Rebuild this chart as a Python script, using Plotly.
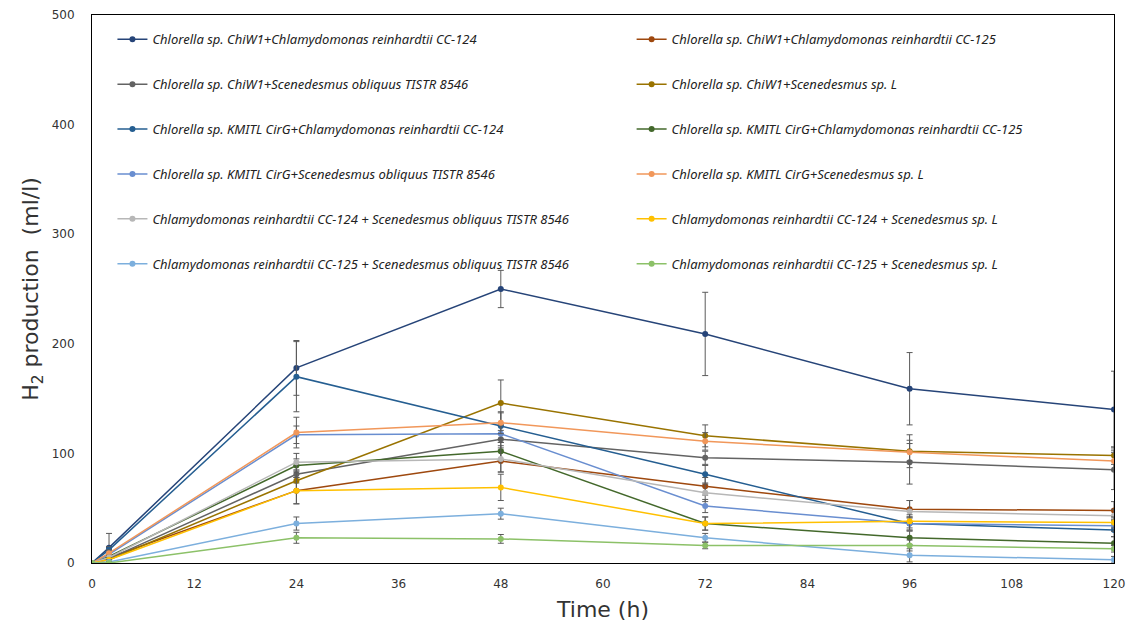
import plotly.graph_objects as go

time_h = [0, 2, 24, 48, 72, 96, 120]

names = [
    "Chlorella sp. ChiW1+Chlamydomonas reinhardtii CC-124",
    "Chlorella sp. ChiW1+Chlamydomonas reinhardtii CC-125",
    "Chlorella sp. ChiW1+Scenedesmus obliquus TISTR 8546",
    "Chlorella sp. ChiW1+Scenedesmus sp. L",
    "Chlorella sp. KMITL CirG+Chlamydomonas reinhardtii CC-124",
    "Chlorella sp. KMITL CirG+Chlamydomonas reinhardtii CC-125",
    "Chlorella sp. KMITL CirG+Scenedesmus obliquus TISTR 8546",
    "Chlorella sp. KMITL CirG+Scenedesmus sp. L",
    "Chlamydomonas reinhardtii CC-124 + Scenedesmus obliquus TISTR 8546",
    "Chlamydomonas reinhardtii CC-124 + Scenedesmus sp. L",
    "Chlamydomonas reinhardtii CC-125 + Scenedesmus obliquus TISTR 8546",
    "Chlamydomonas reinhardtii CC-125 + Scenedesmus sp. L",
]

chiw1_cc124 = [0, 14, 178, 250, 209, 159, 140]
chiw1_cc125 = [0, 5, 66, 93, 70, 49, 48]
chiw1_sobl = [0, 4, 81, 113, 96, 92, 85]
chiw1_scl = [0, 3, 75, 146, 116, 102, 98]
kmitl_cc124 = [0, 12, 170, 125, 81, 36, 30]
kmitl_cc125 = [0, 6, 89, 102, 36, 23, 18]
kmitl_sobl = [0, 8, 117, 118, 52, 36, 34]
kmitl_scl = [0, 9, 119, 128, 111, 101, 93]
cc124_sobl = [0, 5, 92, 95, 64, 47, 43]
cc124_scl = [0, 3, 66, 69, 36, 38, 37]
cc125_sobl = [0, 1, 36, 45, 23, 7, 3]
cc125_scl = [0, 0, 23, 22, 16, 16, 13]

err_chiw1_cc124 = [0, 13, 25, 17, 38, 33, 35]
err_chiw1_cc125 = [0, 2, 12, 10, 8, 8, 8]
err_chiw1_sobl = [0, 3, 8, 8, 6, 20, 18]
err_chiw1_scl = [0, 2, 10, 21, 10, 15, 8]
err_kmitl_cc124 = [0, 3, 32, 12, 8, 6, 6]
err_kmitl_cc125 = [0, 2, 6, 8, 6, 6, 6]
err_kmitl_sobl = [0, 2, 8, 8, 6, 6, 5]
err_kmitl_scl = [0, 3, 14, 10, 8, 8, 8]
err_cc124_sobl = [0, 2, 8, 12, 8, 10, 6]
err_cc124_scl = [0, 2, 12, 12, 6, 6, 5]
err_cc125_sobl = [0, 2, 6, 5, 4, 6, 3]
err_cc125_scl = [0, 1, 5, 4, 3, 5, 3]

values = [chiw1_cc124, chiw1_cc125, chiw1_sobl, chiw1_scl, kmitl_cc124, kmitl_cc125,
          kmitl_sobl, kmitl_scl, cc124_sobl, cc124_scl, cc125_sobl, cc125_scl]
errors = [err_chiw1_cc124, err_chiw1_cc125, err_chiw1_sobl, err_chiw1_scl, err_kmitl_cc124,
          err_kmitl_cc125, err_kmitl_sobl, err_kmitl_scl, err_cc124_sobl, err_cc124_scl,
          err_cc125_sobl, err_cc125_scl]
colors = ["#264478", "#9E480E", "#636363", "#997300", "#255E91", "#43682B",
          "#698ED0", "#F1975A", "#B7B7B7", "#FFC000", "#7CAFDD", "#8CC168"]

fig = go.Figure()
for i, (nm, v, e, c) in enumerate(zip(names, values, errors, colors)):
    fig.add_trace(go.Scatter(
        x=time_h, y=v, name=nm, mode="lines+markers",
        line=dict(color=c, width=1.5),
        marker=dict(color=c, size=6, symbol="circle"),
        error_y=dict(type="data", array=e, visible=True, color="#5a5a5a",
                     thickness=1, width=3),
        legend="legend" if i % 2 == 0 else "legend2",
        legendgroup="g%d" % i,
    ))

legend_common = dict(
    font=dict(family="Noto Sans, Open Sans, sans-serif", size=13, color="#222222",
              style="italic"),
    bgcolor="rgba(0,0,0,0)",
    tracegroupgap=25,
    orientation="v",
    xanchor="left", yanchor="top",
    itemwidth=30,
)

fig.update_layout(
    width=1132, height=626,
    margin=dict(l=92, r=18, t=15, b=63),
    paper_bgcolor="white", plot_bgcolor="white",
    font=dict(family="DejaVu Sans, sans-serif", color="#404040"),
    legend=dict(x=0.020, y=0.983, **legend_common),
    legend2=dict(x=0.528, y=0.983, **legend_common),
    xaxis=dict(
        range=[0, 120], dtick=12, tick0=0, showgrid=False, zeroline=False,
        showline=True, linecolor="black", linewidth=1, mirror=True,
        ticks="", tickfont=dict(size=12, color="#333333"),
        ticklabelstandoff=10, automargin=False,
        title=dict(text="Time (h)", font=dict(size=22, color="#333333"), standoff=11),
    ),
    yaxis=dict(
        range=[0, 500], dtick=100, tick0=0, showgrid=False, zeroline=False,
        showline=True, linecolor="black", linewidth=1, mirror=True,
        ticks="", tickfont=dict(size=12, color="#333333"),
        ticklabelstandoff=14, automargin=False,
        title=dict(text="H<sub>2</sub> production  (ml/l)",
                   font=dict(size=22, color="#333333"), standoff=6),
    ),
)

fig.write_html("out.html")
